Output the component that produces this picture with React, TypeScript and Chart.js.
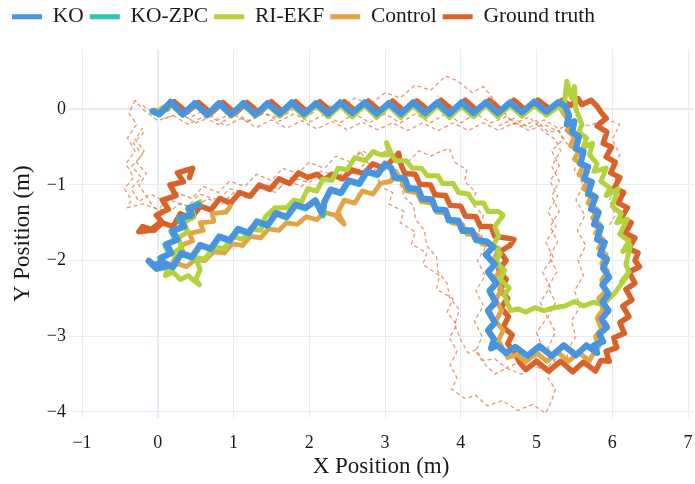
import React, { useEffect, useRef } from "react";
import { Chart, registerables } from "chart.js";
Chart.register(...registerables);

type P = [number, number];

const seriesNames = ["KO", "KO-ZPC", "RI-EKF", "Control", "Ground truth"];
const seriesColors = ["#4A93DE", "#2EC4B0", "#B4D23E", "#E2A444", "#D9622B"];
const seriesWidths = [6, 6, 5, 4.8, 5.5];
const trialColor = "rgba(222,112,62,0.72)";
const xRange = [-1.172, 7.066];
const yRange = [-4.08, 0.79];

const koPath: P[] = [
  [-0.06,-0.02],[0.02,-0.06],[0.17,0.1],[0.33,-0.06],[0.49,0.08],[0.65,-0.07],[0.81,0.08],[0.97,-0.07],[1.13,0.08],[1.29,-0.07],[1.45,0.08],[1.61,-0.06],[1.77,0.09],[1.93,-0.06],[2.09,0.08],[2.25,-0.06],[2.41,0.09],[2.57,-0.05],[2.73,0.09],[2.89,-0.06],[3.05,0.08],[3.21,-0.06],[3.37,0.09],[3.53,-0.05],[3.69,0.09],[3.85,-0.06],[4.01,0.09],[4.17,-0.05],[4.33,0.09],[4.49,-0.05],[4.65,0.09],[4.81,-0.04],[4.97,0.1],[5.13,-0.03],[5.29,0.09],[5.38,0.04],[5.43,-0.08],[5.4,-0.2],[5.5,-0.16],
  [5.47,-0.3],[5.56,-0.36],[5.52,-0.52],[5.62,-0.56],[5.58,-0.72],[5.68,-0.76],[5.63,-0.92],[5.73,-0.96],[5.68,-1.12],[5.78,-1.16],[5.72,-1.32],[5.82,-1.36],[5.76,-1.52],[5.85,-1.56],[5.8,-1.72],[5.9,-1.76],[5.84,-1.92],[5.93,-1.98],[5.88,-2.1],[5.96,-2.22],[5.87,-2.32],[5.95,-2.44],[5.87,-2.55],[5.95,-2.66],[5.86,-2.77],[5.93,-2.88],[5.83,-2.97],[5.88,-3.07],[5.76,-3.12],[5.8,-3.22],
  [5.66,-3.12],[5.52,-3.25],[5.36,-3.12],[5.2,-3.26],[5.04,-3.13],[4.88,-3.26],[4.72,-3.14],[4.6,-3.22],[4.48,-3.12],[4.4,-3.16],[4.44,-3.04],
  [4.36,-2.92],[4.45,-2.82],[4.36,-2.66],[4.46,-2.55],[4.38,-2.4],[4.47,-2.3],[4.36,-2.15],[4.45,-2.05],[4.33,-1.92],[4.43,-1.82],[4.35,-1.75],
  [4.2,-1.72],[4.15,-1.6],[4.02,-1.6],[3.97,-1.47],[3.84,-1.46],[3.8,-1.33],[3.67,-1.32],[3.62,-1.19],[3.49,-1.18],[3.44,-1.05],[3.31,-1.04],[3.26,-0.91],[3.13,-0.9],[3.08,-0.77],[3.0,-0.72],
  [2.9,-0.86],[2.76,-0.82],[2.66,-0.98],[2.52,-0.94],[2.42,-1.1],[2.28,-1.06],[2.2,-1.22],[2.16,-1.36],[2.08,-1.2],[1.95,-1.3],[1.82,-1.26],[1.7,-1.42],[1.56,-1.37],[1.45,-1.53],[1.31,-1.48],[1.2,-1.63],[1.06,-1.58],[0.95,-1.73],[0.81,-1.68],[0.7,-1.84],[0.56,-1.79],[0.45,-1.95],[0.31,-1.9],[0.2,-2.08],[0.06,-2.02],[-0.05,-2.06],[-0.12,-2.0],[-0.02,-2.1],[0.1,-2.08],
  [0.05,-1.96],[0.18,-1.9],[0.12,-1.78],[0.26,-1.72],[0.2,-1.6],[0.35,-1.55],[0.3,-1.43],[0.45,-1.4],[0.42,-1.3],[0.55,-1.27],
];

const koZpcPath: P[] = [
  [-0.07,-0.03],[0.02,-0.07],[0.17,0.09],[0.33,-0.07],[0.49,0.08],[0.65,-0.07],[0.81,0.08],[0.97,-0.07],[1.13,0.08],[1.29,-0.07],[1.45,0.08],[1.61,-0.06],[1.77,0.09],[1.93,-0.06],[2.09,0.08],[2.25,-0.06],[2.41,0.09],[2.57,-0.05],[2.73,0.09],[2.89,-0.06],[3.05,0.08],[3.21,-0.06],[3.37,0.09],[3.53,-0.05],[3.69,0.09],[3.85,-0.06],[4.01,0.09],[4.17,-0.05],[4.33,0.09],[4.49,-0.05],[4.65,0.09],[4.81,-0.04],[4.97,0.1],[5.13,-0.03],[5.29,0.1],[5.37,0.05],[5.43,-0.08],[5.4,-0.2],[5.5,-0.16],
  [5.47,-0.3],[5.56,-0.36],[5.52,-0.52],[5.62,-0.56],[5.58,-0.72],[5.68,-0.76],[5.63,-0.92],[5.73,-0.96],[5.68,-1.12],[5.78,-1.16],[5.72,-1.32],[5.82,-1.36],[5.76,-1.52],[5.85,-1.56],[5.8,-1.72],[5.9,-1.76],[5.84,-1.92],[5.93,-1.98],[5.88,-2.1],[5.96,-2.22],[5.87,-2.32],[5.95,-2.44],[5.87,-2.55],[5.95,-2.66],[5.86,-2.77],[5.93,-2.88],[5.83,-2.97],[5.88,-3.07],[5.76,-3.12],[5.8,-3.22],
  [5.66,-3.12],[5.52,-3.25],[5.36,-3.12],[5.2,-3.26],[5.04,-3.13],[4.88,-3.26],[4.72,-3.14],[4.6,-3.22],[4.48,-3.12],[4.4,-3.16],[4.44,-3.04],
  [4.36,-2.92],[4.45,-2.82],[4.36,-2.66],[4.46,-2.55],[4.38,-2.4],[4.47,-2.3],[4.36,-2.15],[4.45,-2.05],[4.33,-1.92],[4.43,-1.82],[4.35,-1.75],
  [4.2,-1.73],[4.15,-1.61],[4.02,-1.61],[3.97,-1.48],[3.84,-1.47],[3.8,-1.34],[3.67,-1.33],[3.62,-1.2],[3.49,-1.19],[3.44,-1.06],[3.31,-1.05],[3.26,-0.92],[3.13,-0.91],[3.08,-0.78],[3.0,-0.73],
  [2.9,-0.87],[2.76,-0.83],[2.66,-0.99],[2.52,-0.95],[2.42,-1.11],[2.28,-1.07],[2.2,-1.23],[2.18,-1.4],[2.08,-1.21],[1.95,-1.31],[1.82,-1.27],[1.7,-1.43],[1.56,-1.38],[1.45,-1.54],[1.31,-1.49],[1.2,-1.64],[1.06,-1.59],[0.95,-1.74],[0.81,-1.69],[0.7,-1.85],[0.56,-1.8],[0.45,-1.96],[0.31,-1.91],[0.2,-2.09],[0.06,-2.03],[-0.05,-2.07],[-0.12,-2.01],[-0.02,-2.11],[0.08,-2.09],
  [0.03,-1.97],[0.16,-1.91],[0.1,-1.79],[0.24,-1.73],[0.18,-1.61],[0.33,-1.56],[0.28,-1.44],[0.43,-1.41],[0.4,-1.31],[0.53,-1.25],
];

const riEkfPath: P[] = [
  [-0.04,-0.04],[0.17,0.08],[0.33,-0.07],[0.49,0.07],[0.65,-0.08],[0.81,0.06],[0.97,-0.09],[1.13,0.06],[1.29,-0.09],[1.45,0.06],[1.61,-0.09],[1.77,0.06],[1.93,-0.1],[2.09,0.05],[2.25,-0.1],[2.41,0.05],[2.57,-0.1],[2.73,0.05],[2.89,-0.11],[3.05,0.05],[3.21,-0.11],[3.37,0.05],[3.53,-0.11],[3.69,0.05],[3.85,-0.11],[4.01,0.04],[4.17,-0.1],[4.33,0.05],[4.49,-0.1],[4.65,0.05],[4.81,-0.09],[4.97,0.05],[5.13,-0.08],[5.29,0.04],[5.36,-0.02],[5.4,0.37],[5.46,0.15],[5.5,0.3],[5.52,0.0],
  [5.6,-0.2],[5.56,-0.3],[5.66,-0.38],[5.62,-0.5],[5.74,-0.45],[5.7,-0.6],[5.8,-0.72],[5.76,-0.82],[5.92,-0.78],[5.85,-0.95],[5.97,-1.04],[5.92,-1.14],[6.08,-1.05],[6.0,-1.28],[6.12,-1.38],[6.06,-1.5],[6.2,-1.45],[6.1,-1.65],[6.22,-1.74],[6.14,-1.88],[6.24,-1.8],[6.18,-2.05],[6.22,-2.15],[6.12,-2.28],[6.2,-2.2],[6.04,-2.42],[5.94,-2.52],[5.88,-2.58],
  [5.75,-2.55],[5.62,-2.6],[5.5,-2.54],[5.38,-2.6],[5.24,-2.62],[5.1,-2.66],[4.98,-2.62],[4.86,-2.68],[4.76,-2.64],[4.66,-2.66],[4.62,-2.58],
  [4.58,-2.45],[4.64,-2.36],[4.52,-2.25],[4.58,-2.13],[4.46,-2.02],[4.52,-1.9],[4.42,-1.8],[4.5,-1.68],[4.45,-1.55],[4.56,-1.4],[4.5,-1.35],
  [4.36,-1.35],[4.3,-1.24],[4.18,-1.24],[4.1,-1.12],[3.97,-1.1],[3.9,-0.98],[3.76,-0.98],[3.7,-0.88],[3.56,-0.88],[3.48,-0.78],[3.36,-0.78],[3.28,-0.68],[3.14,-0.68],[3.08,-0.58],[3.02,-0.44],[3.06,-0.6],
  [2.94,-0.6],[2.84,-0.56],[2.74,-0.68],[2.6,-0.64],[2.5,-0.8],[2.38,-0.78],[2.3,-0.94],[2.18,-0.92],[2.1,-1.08],[1.98,-1.05],[1.9,-1.22],[1.8,-1.2],[1.7,-1.3],[1.55,-1.3],[1.42,-1.42],[1.36,-1.6],[1.22,-1.58],[1.12,-1.72],[0.98,-1.68],[0.88,-1.84],[0.74,-1.82],[0.62,-1.98],[0.5,-1.96],[0.56,-2.12],[0.5,-2.25],[0.55,-2.32],[0.4,-2.2],[0.3,-2.25],[0.2,-2.15],[0.1,-2.2],[0.14,-2.08],
  [0.26,-2.0],[0.2,-1.9],[0.32,-1.82],[0.27,-1.7],[0.4,-1.62],[0.34,-1.5],[0.48,-1.42],[0.44,-1.3],[0.56,-1.22],
];

const controlPath: P[] = [
  [-0.04,-0.05],[0.17,0.07],[0.33,-0.08],[0.49,0.07],[0.65,-0.08],[0.81,0.07],[0.97,-0.08],[1.13,0.07],[1.29,-0.08],[1.45,0.07],[1.61,-0.08],[1.77,0.07],[1.93,-0.08],[2.09,0.07],[2.25,-0.08],[2.41,0.07],[2.57,-0.08],[2.73,0.07],[2.89,-0.08],[3.05,0.07],[3.21,-0.08],[3.37,0.07],[3.53,-0.08],[3.69,0.07],[3.85,-0.08],[4.01,0.07],[4.17,-0.08],[4.33,0.07],[4.49,-0.08],[4.65,0.07],[4.81,-0.08],[4.97,0.07],[5.13,-0.07],[5.29,0.06],[5.36,-0.06],
  [5.46,-0.2],[5.4,-0.28],[5.5,-0.36],[5.45,-0.48],[5.56,-0.55],[5.5,-0.66],[5.62,-0.74],[5.56,-0.86],[5.68,-0.93],[5.62,-1.05],[5.74,-1.12],[5.68,-1.24],[5.8,-1.32],[5.74,-1.44],[5.84,-1.52],[5.78,-1.64],[5.88,-1.72],[5.82,-1.84],[5.92,-1.92],[5.86,-2.04],[5.94,-2.14],[5.86,-2.26],[5.92,-2.4],[5.82,-2.5],[5.88,-2.64],[5.8,-2.76],[5.86,-2.9],[5.78,-3.0],[5.82,-3.14],[5.74,-3.25],[5.7,-3.32],
  [5.56,-3.22],[5.42,-3.33],[5.28,-3.21],[5.14,-3.33],[5.0,-3.22],[4.86,-3.34],[4.74,-3.24],[4.62,-3.28],[4.56,-3.18],
  [4.5,-3.05],[4.56,-2.92],[4.46,-2.8],[4.54,-2.66],[4.46,-2.52],[4.54,-2.38],[4.45,-2.24],[4.53,-2.1],[4.45,-1.96],[4.5,-1.84],[4.42,-1.8],
  [4.28,-1.78],[4.22,-1.66],[4.08,-1.65],[4.02,-1.52],[3.88,-1.5],[3.82,-1.38],[3.68,-1.36],[3.62,-1.24],[3.48,-1.22],[3.42,-1.1],[3.28,-1.08],[3.22,-0.94],[3.14,-0.82],[3.08,-0.95],
  [2.94,-0.98],[2.84,-1.12],[2.7,-1.08],[2.6,-1.24],[2.46,-1.2],[2.38,-1.36],[2.46,-1.52],[2.34,-1.4],[2.2,-1.36],[2.1,-1.46],[1.96,-1.42],[1.84,-1.52],[1.7,-1.5],[1.6,-1.6],[1.46,-1.58],[1.36,-1.7],[1.22,-1.68],[1.12,-1.8],[0.98,-1.78],[0.88,-1.9],[0.74,-1.88],[0.62,-2.0],[0.5,-1.98],[0.38,-2.08],[0.26,-2.04],[0.16,-2.1],[0.22,-1.98],
  [0.34,-1.9],[0.3,-1.8],[0.46,-1.74],[0.42,-1.64],[0.6,-1.6],[0.56,-1.5],[0.74,-1.48],[0.72,-1.38],[0.9,-1.36],[0.96,-1.28],
];

const groundTruthPath: P[] = [
  [-0.05,-0.02],[0.04,-0.05],[0.22,0.1],[0.38,-0.04],[0.54,0.09],[0.7,-0.05],[0.86,0.09],[1.02,-0.05],[1.18,0.09],[1.34,-0.05],[1.5,0.1],[1.66,-0.04],[1.82,0.1],[1.98,-0.04],[2.14,0.1],[2.3,-0.04],[2.46,0.1],[2.62,-0.03],[2.78,0.11],[2.94,-0.03],[3.1,0.11],[3.26,-0.03],[3.42,0.11],[3.58,-0.02],[3.74,0.12],[3.9,-0.02],[4.06,0.12],[4.22,-0.02],[4.38,0.12],[4.54,-0.02],[4.7,0.12],[4.86,-0.01],[5.02,0.12],[5.18,0.0],[5.34,0.12],[5.45,0.05],[5.55,0.14],[5.6,0.06],[5.72,0.12],[5.8,0.04],[5.86,-0.05],
  [5.92,-0.12],[5.8,-0.22],[5.93,-0.3],[5.88,-0.45],[5.99,-0.5],[5.92,-0.63],[6.04,-0.7],[5.98,-0.84],[6.1,-0.9],[6.03,-1.04],[6.15,-1.1],[6.08,-1.24],[6.2,-1.3],[6.12,-1.44],[6.25,-1.5],[6.17,-1.64],[6.3,-1.7],[6.22,-1.84],[6.34,-1.9],[6.3,-2.0],[6.36,-2.08],[6.22,-2.15],[6.3,-2.3],[6.18,-2.38],[6.26,-2.52],[6.14,-2.6],[6.22,-2.74],[6.1,-2.82],[6.16,-2.96],[6.02,-3.02],[6.06,-3.15],[5.92,-3.2],[5.96,-3.33],[5.85,-3.32],
  [5.78,-3.46],[5.62,-3.34],[5.48,-3.47],[5.32,-3.33],[5.16,-3.46],[5.0,-3.33],[4.86,-3.44],[4.78,-3.35],
  [4.7,-3.2],[4.62,-3.1],[4.68,-2.98],[4.56,-2.88],[4.63,-2.74],[4.53,-2.62],[4.62,-2.5],[4.52,-2.38],[4.6,-2.25],[4.5,-2.12],[4.6,-2.0],[4.52,-1.88],[4.65,-1.8],[4.7,-1.72],[4.6,-1.7],
  [4.45,-1.68],[4.4,-1.55],[4.26,-1.55],[4.2,-1.42],[4.06,-1.41],[4.0,-1.28],[3.86,-1.27],[3.8,-1.14],[3.66,-1.13],[3.6,-1.0],[3.46,-0.99],[3.4,-0.86],[3.26,-0.85],[3.2,-0.7],[3.18,-0.58],[3.12,-0.65],
  [2.98,-0.78],[2.84,-0.72],[2.72,-0.85],[2.56,-0.8],[2.44,-0.92],[2.3,-0.86],[2.2,-0.93],[2.1,-0.86],[1.98,-0.9],[1.86,-0.84],[1.74,-0.98],[1.6,-0.92],[1.48,-1.06],[1.34,-1.0],[1.22,-1.15],[1.08,-1.1],[0.96,-1.24],[0.82,-1.18],[0.7,-1.33],[0.56,-1.28],[0.44,-1.44],[0.3,-1.38],[0.2,-1.55],[0.06,-1.5],[-0.05,-1.6],[-0.2,-1.55],[-0.25,-1.62],[-0.1,-1.6],
  [0.05,-1.48],[-0.02,-1.4],[0.14,-1.32],[0.06,-1.2],[0.24,-1.14],[0.16,-1.0],[0.34,-0.96],[0.26,-0.84],[0.46,-0.78],[0.42,-0.9],
];

const trialAPath: P[] = [
  [-0.3,0.12],[-0.38,-0.05],[-0.28,-0.2],[-0.4,-0.38],[-0.3,-0.55],[-0.42,-0.72],[-0.32,-0.9],[-0.44,-1.05],[-0.35,-1.2],[-0.4,-1.3],
  [-0.2,-1.25],[0.0,-1.32],[0.15,-1.2],[0.4,-1.28],[0.55,-1.12],[0.8,-1.2],[0.95,-1.05],[1.2,-1.12],[1.35,-0.98],[1.6,-1.05],[1.75,-0.9],[2.0,-0.97],[2.15,-0.82],[2.4,-0.88],[2.55,-0.72],[2.67,-0.55],
  [2.8,-0.75],[2.95,-0.85],[2.9,-1.0],[3.1,-1.1],[3.05,-1.25],[3.25,-1.35],[3.2,-1.5],[3.4,-1.62],[3.35,-1.78],[3.55,-1.9],[3.5,-2.05],[3.72,-2.2],[3.68,-2.38],[3.9,-2.5],[3.82,-2.68],[3.95,-2.85],[3.85,-3.02],[3.95,-3.2],[3.86,-3.38],[3.95,-3.55],[3.88,-3.7],
  [4.05,-3.82],[4.2,-3.78],[4.35,-3.92],[4.55,-3.85],[4.75,-3.98],[4.95,-3.9],[5.12,-4.02],[5.2,-3.85],[5.25,-3.7],
  [5.15,-3.55],[5.25,-3.35],[5.15,-3.15],[5.25,-2.95],[5.15,-2.75],[5.25,-2.55],[5.15,-2.35],[5.27,-2.15],[5.17,-1.95],[5.28,-1.75],[5.18,-1.55],[5.3,-1.35],[5.2,-1.15],[5.3,-0.95],[5.2,-0.75],[5.32,-0.55],[5.25,-0.4],
  [5.1,-0.3],[4.9,-0.1],[4.7,-0.2],[4.5,0.05],[4.3,0.3],[4.15,0.22],[3.95,0.38],[3.8,0.44],[3.6,0.25],[3.4,0.32],[3.2,0.15],[3.0,0.22],[2.8,0.06],[2.6,0.15],[2.4,0.0],[2.2,0.06],[2.0,-0.08],[1.8,0.0],[1.6,-0.12],[1.4,-0.05],[1.2,-0.16],[1.0,-0.08],[0.8,-0.2],[0.6,-0.1],[0.4,-0.2],[0.2,-0.08],[0.0,-0.15],[-0.2,0.0],[-0.3,0.12],
];

const trialBPath: P[] = [
  [-0.05,0.02],[0.1,-0.12],[0.3,-0.05],[0.5,-0.18],[0.7,-0.1],[0.9,-0.22],[1.1,-0.12],[1.3,-0.24],[1.5,-0.14],[1.7,-0.25],[1.9,-0.15],[2.1,-0.26],[2.3,-0.16],[2.5,-0.27],[2.7,-0.17],[2.9,-0.27],[3.1,-0.18],[3.3,-0.28],[3.5,-0.18],[3.7,-0.28],[3.9,-0.18],[4.1,-0.28],[4.3,-0.18],[4.5,-0.28],[4.7,-0.18],[4.9,-0.28],[5.1,-0.2],[5.3,-0.3],[5.4,-0.45],
  [5.6,-0.6],[5.5,-0.8],[5.62,-1.0],[5.52,-1.2],[5.64,-1.4],[5.54,-1.6],[5.65,-1.8],[5.55,-2.0],[5.62,-2.2],[5.5,-2.4],[5.58,-2.6],[5.46,-2.8],[5.52,-3.0],[5.4,-3.2],[5.42,-3.35],
  [5.25,-3.3],[5.1,-3.45],[4.95,-3.38],[4.8,-3.5],[4.6,-3.42],[4.45,-3.5],[4.3,-3.35],[4.2,-3.2],
  [4.28,-3.0],[4.18,-2.8],[4.3,-2.6],[4.2,-2.4],[4.32,-2.2],[4.22,-2.0],[4.34,-1.8],[4.24,-1.6],[4.3,-1.4],
  [4.15,-1.25],[4.2,-1.1],[4.05,-0.95],[4.08,-0.8],[3.92,-0.7],[3.85,-0.52],[3.75,-0.55],
  [3.6,-0.62],[3.45,-0.55],[3.3,-0.7],[3.1,-0.62],[2.95,-0.78],[2.75,-0.7],[2.6,-0.86],[2.4,-0.78],[2.25,-0.94],[2.05,-0.86],[1.9,-1.02],[1.7,-0.94],[1.55,-1.1],[1.35,-1.02],[1.2,-1.18],[1.0,-1.1],[0.85,-1.25],[0.65,-1.18],[0.5,-1.32],[0.3,-1.25],[0.15,-1.35],[-0.05,-1.3],[-0.15,-1.15],[-0.25,-1.0],
  [-0.15,-0.85],[-0.28,-0.7],[-0.18,-0.55],[-0.3,-0.4],[-0.2,-0.25],
];

const trialCPath: P[] = [
  [-0.2,0.05],[0.0,-0.08],[0.2,0.0],[0.4,-0.12],[0.6,-0.02],[0.8,-0.14],[1.0,-0.04],[1.2,-0.15],[1.4,-0.05],[1.6,-0.16],[1.8,-0.06],[2.0,-0.17],[2.2,-0.07],[2.4,-0.18],[2.6,-0.06],[2.8,-0.18],[3.0,-0.06],[3.2,-0.18],[3.4,-0.06],[3.6,-0.18],[3.8,-0.06],[4.0,-0.18],[4.2,-0.06],[4.4,-0.18],[4.6,-0.1],[4.8,-0.22],[5.0,-0.15],[5.15,-0.3],[5.3,-0.28],[5.35,-0.4],
  [5.2,-0.55],[5.3,-0.75],[5.18,-0.95],[5.28,-1.15],[5.15,-1.35],[5.26,-1.55],[5.12,-1.75],[5.22,-1.95],[5.08,-2.15],[5.18,-2.35],[5.05,-2.55],[5.14,-2.75],[5.0,-2.95],[5.08,-3.15],[4.95,-3.35],[4.9,-3.42],
  [4.75,-3.35],[4.6,-3.42],[4.45,-3.3],[4.3,-3.32],[4.2,-3.18],[4.1,-3.22],
  [4.0,-3.05],[3.92,-2.85],[3.98,-2.65],[3.85,-2.48],[3.82,-2.3],[3.7,-2.15],[3.68,-1.95],[3.55,-1.8],[3.52,-1.6],[3.4,-1.45],[3.38,-1.28],[3.25,-1.15],[3.2,-0.98],[3.08,-0.86],[3.05,-0.7],[3.02,-0.55],
  [2.85,-0.62],[2.7,-0.55],[2.55,-0.7],[2.35,-0.62],[2.2,-0.78],[2.0,-0.7],[1.85,-0.85],[1.65,-0.78],[1.5,-0.94],[1.3,-0.86],[1.15,-1.02],[0.95,-0.95],[0.8,-1.1],[0.6,-1.02],[0.45,-1.18],[0.25,-1.1],[0.1,-1.22],[-0.1,-1.12],[-0.25,-1.22],[-0.35,-1.05],
  [-0.22,-0.9],[-0.34,-0.75],[-0.2,-0.6],[-0.32,-0.45],[-0.18,-0.3],
];

const trialDPath: P[] = [
  [4.5,-0.22],[4.7,-0.12],[4.9,-0.24],[5.1,-0.14],[5.3,-0.26],[5.5,-0.16],[5.7,-0.22],[5.9,-0.12],[6.1,-0.2],[6.0,-0.4],[6.1,-0.6],[5.98,-0.8],[6.08,-1.0],[5.96,-1.2],[6.04,-1.4],[5.95,-1.55],
];

const mainPaths: P[][] = [koPath, koZpcPath, riEkfPath, controlPath, groundTruthPath];
const trialPaths: P[][] = [trialAPath, trialBPath, trialCPath, trialDPath];

const FONT = "'Liberation Serif', 'Times New Roman', serif";
const TEXT = "#1a1a1a";
const GRID = "#E6ECF5";

const fmt = (v: number | string) => {
  const n = Number(v);
  return n < 0 ? "\u2212" + Math.abs(n) : String(n);
};

export default function App() {
  const ref = useRef<HTMLCanvasElement>(null);
  useEffect(() => {
    document.body.style.margin = "0";
    const toXY = (p: P[]) => p.map(([x, y]) => ({ x, y }));
    const datasets: any[] = [];
    mainPaths.forEach((p, i) => {
      datasets.push({
        label: seriesNames[i],
        data: toXY(p),
        showLine: true,
        borderColor: seriesColors[i],
        backgroundColor: seriesColors[i],
        borderWidth: seriesWidths[i],
        pointRadius: 0,
        tension: 0,
        borderJoinStyle: "round",
        borderCapStyle: "round",
        xAxisID: "x",
        yAxisID: "y",
      });
    });
    trialPaths.forEach((p, i) => {
      datasets.push({
        label: "trial" + i,
        data: toXY(p),
        showLine: true,
        borderColor: trialColor,
        backgroundColor: trialColor,
        borderWidth: 1.3,
        borderDash: [4, 3],
        pointRadius: 0,
        tension: 0,
        xAxisID: "x",
        yAxisID: "y",
      });
    });
    const gridWidth = (ctx: any) => (ctx.tick && ctx.tick.value === 0 ? 2 : 1);
    const chart = new Chart(ref.current!, {
      type: "scatter",
      data: { datasets },
      options: {
        animation: false,
        responsive: false,
        layout: { padding: { left: 6, right: 2, top: 0, bottom: 0 } },
        plugins: {
          tooltip: { enabled: false },
          legend: {
            display: true,
            position: "top",
            align: "start",
            labels: {
              boxWidth: 30,
              boxHeight: 5,
              padding: 6,
              color: TEXT,
              font: { family: FONT, size: 21.5 },
              generateLabels: () =>
                seriesNames.map((n, i) => ({
                  text: n,
                  fillStyle: seriesColors[i],
                  strokeStyle: seriesColors[i],
                  lineWidth: 0,
                  hidden: false,
                  datasetIndex: i,
                  fontColor: TEXT,
                })),
            },
          },
        },
        scales: {
          x: {
            type: "linear",
            position: "bottom",
            min: xRange[0],
            max: xRange[1],
            afterFit: (s: any) => { s.height = 66; },
            border: { display: false },
            grid: { color: GRID, lineWidth: gridWidth, drawTicks: true, tickLength: 12, tickColor: "rgba(0,0,0,0)" },
            ticks: { stepSize: 1, includeBounds: false, padding: 2, color: TEXT, font: { family: FONT, size: 18 }, callback: fmt },
            title: { display: true, text: "X Position (m)", color: TEXT, font: { family: FONT, size: 23 }, padding: { top: 0, bottom: 3 } },
          },
          top: {
            type: "linear",
            axis: "x",
            position: "top",
            display: true,
            min: 0,
            max: 1,
            afterFit: (s: any) => { s.height = 12; },
            border: { display: false },
            grid: { display: false, drawTicks: false },
            ticks: { display: false },
          },
          y: {
            type: "linear",
            position: "left",
            min: yRange[0],
            max: yRange[1],
            afterFit: (s: any) => { s.width = 63; },
            border: { display: false },
            grid: { color: GRID, lineWidth: gridWidth, drawTicks: false },
            ticks: { stepSize: 1, includeBounds: false, padding: 3, color: TEXT, font: { family: FONT, size: 18 }, callback: fmt },
            title: { display: true, text: "Y Position (m)", color: TEXT, font: { family: FONT, size: 23 }, padding: { top: 3, bottom: 0 } },
          },
        },
      } as any,
    });
    return () => chart.destroy();
  }, []);
  return (
    <div style={{ width: 695, height: 484 }}>
      <canvas ref={ref} width={695} height={484} style={{ display: "block" }} />
    </div>
  );
}
